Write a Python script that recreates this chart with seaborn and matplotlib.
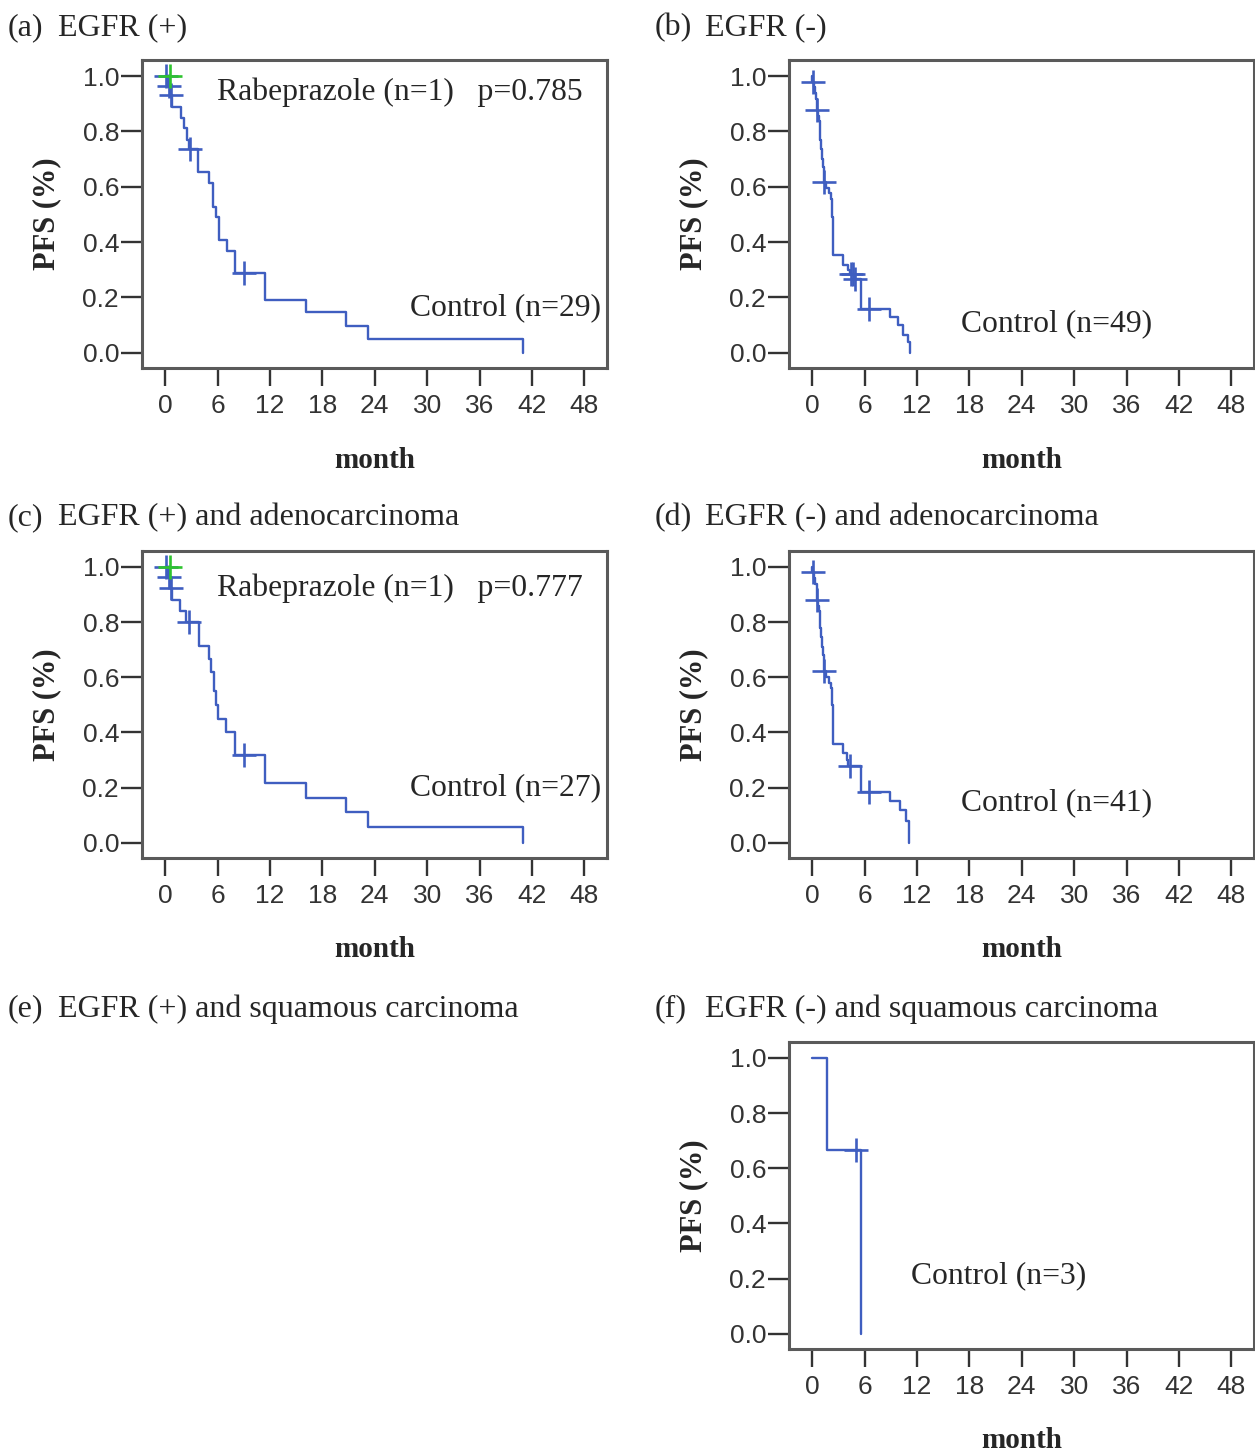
import matplotlib
matplotlib.use('Agg')
import matplotlib.pyplot as plt
import seaborn as sns
import pandas as pd

# ---- data (months, PFS fraction) ----
# (a) EGFR (+), control n=29
a_t = [0, 0.3, 0.5, 0.77, 1.8, 2.18, 2.56, 2.7, 3.71, 5.05, 5.43, 5.81, 6.12, 7.04, 8.04, 11.48, 16.15, 20.67, 23.2, 40.95]
a_s = [1.0, 0.965, 0.93, 0.889, 0.847, 0.811, 0.769, 0.735, 0.655, 0.613, 0.528, 0.492, 0.408, 0.369, 0.288, 0.191, 0.146, 0.097, 0.051, 0.0]
a_cens_t = [0.15, 0.4, 0.65, 2.85, 9.07]
a_cens_s = [1.0, 0.965, 0.93, 0.735, 0.288]

# (b) EGFR (-), control n=49
b_t = [0, 0.03, 0.2, 0.35, 0.45, 0.5, 0.65, 0.75, 0.85, 0.95, 1.05, 1.15, 1.25, 1.35, 1.41, 1.6, 1.9, 2.15,
       2.25, 2.3, 2.35, 2.4, 2.44, 3.51, 4.09, 4.35, 4.75, 5.61, 8.86, 9.82, 10.46, 10.96, 11.17]
b_s = [1.0, 0.98, 0.959, 0.939, 0.918, 0.877, 0.857, 0.836, 0.80, 0.77, 0.735, 0.70, 0.67, 0.64, 0.618, 0.597, 0.576, 0.555,
       0.534, 0.49, 0.45, 0.40, 0.354, 0.318, 0.30, 0.284, 0.266, 0.159, 0.128, 0.101, 0.065, 0.04, 0.0]
b_cens_t = [0.05, 0.53, 1.41, 4.4, 4.65, 4.95, 6.49]
b_cens_s = [0.98, 0.877, 0.618, 0.284, 0.284, 0.266, 0.159]

# (c) EGFR (+) and adenocarcinoma, control n=27
c_t = [0, 0.3, 0.5, 0.77, 1.68, 2.37, 3.83, 4.97, 5.3, 5.6, 5.85, 6.0, 6.96, 8.04, 11.48, 16.15, 20.67, 23.2, 40.95]
c_s = [1.0, 0.964, 0.925, 0.881, 0.839, 0.801, 0.713, 0.665, 0.62, 0.55, 0.50, 0.45, 0.402, 0.318, 0.216, 0.162, 0.11, 0.058, 0.0]
c_cens_t = [0.15, 0.4, 0.65, 2.76, 9.07]
c_cens_s = [1.0, 0.964, 0.925, 0.801, 0.318]

# (d) EGFR (-) and adenocarcinoma, control n=41
d_t = [0, 0.03, 0.2, 0.35, 0.5, 0.65, 0.75, 0.85, 0.95, 1.05, 1.15, 1.25, 1.35, 1.41, 1.6, 1.9, 2.15, 2.25,
       2.3, 2.35, 2.4, 2.44, 3.51, 3.95, 4.15, 5.61, 8.86, 10.1, 10.8, 11.1]
d_s = [1.0, 0.981, 0.96, 0.94, 0.881, 0.86, 0.84, 0.81, 0.78, 0.745, 0.71, 0.68, 0.65, 0.623, 0.60, 0.58, 0.56, 0.54,
       0.50, 0.46, 0.41, 0.36, 0.324, 0.30, 0.278, 0.186, 0.15, 0.118, 0.078, 0.0]
d_cens_t = [0.05, 0.53, 1.41, 4.3, 6.49]
d_cens_s = [0.981, 0.881, 0.623, 0.278, 0.186]

# (f) EGFR (-) and squamous carcinoma, control n=3
f_t = [0, 1.72, 5.61]
f_s = [1.0, 0.667, 0.0]
f_cens_t = [5.04]
f_cens_s = [0.667]

# rabeprazole arm (n=1), one censored case
rabe_t = [0.54]
rabe_s = [1.0]

titles = {
    'a': ('(a)', 'EGFR (+)'),
    'b': ('(b)', 'EGFR (-)'),
    'c': ('(c)', 'EGFR (+) and adenocarcinoma'),
    'd': ('(d)', 'EGFR (-) and adenocarcinoma'),
    'e': ('(e)', 'EGFR (+) and squamous carcinoma'),
    'f': ('(f)', 'EGFR (-) and squamous carcinoma'),
}

BLUE = '#3f5ec0'
GREEN = '#2ec42e'
W, H = 1255, 1455

sns.set_style('white')
plt.rcParams['font.family'] = ['Liberation Serif', 'DejaVu Serif']

fig = plt.figure(figsize=(W / 100, H / 100), dpi=100)


def make_ax(left_px, top_px, bottom_px, width_px=465):
    return fig.add_axes([left_px / W, 1 - bottom_px / H, width_px / W, (bottom_px - top_px) / H])


def draw_km(ax, t, s, ct, cs, ctrl_label, ctrl_xy, rabe_text=None, rabe_xy=None):
    df = pd.DataFrame({'month': t, 'PFS': s})
    sns.lineplot(data=df, x='month', y='PFS', drawstyle='steps-post', estimator=None,
                 color=BLUE, linewidth=1.7, ax=ax)
    sns.scatterplot(x=ct, y=cs, marker='+', s=280, color=BLUE, linewidth=1.9, ax=ax, zorder=3)
    if rabe_text is not None:
        sns.scatterplot(x=rabe_t, y=rabe_s, marker='+', s=280, color=GREEN, linewidth=1.9, ax=ax, zorder=4)
        ax.text(rabe_xy[0], rabe_xy[1], rabe_text, fontsize=22.8, ha='left', va='center')
    ax.text(ctrl_xy[0], ctrl_xy[1], ctrl_label, fontsize=22.8, ha='left', va='center')

    ax.set_xlim(-2.65, 50.6)
    ax.set_ylim(-0.055, 1.058)
    ax.set_xticks(range(0, 49, 6))
    ax.set_xticklabels([str(v) for v in range(0, 49, 6)], fontfamily='Liberation Sans',
                       fontsize=19, color='#333333')
    yt = [0.0, 0.2, 0.4, 0.6, 0.8, 1.0]
    ax.set_yticks(yt)
    ax.set_yticklabels(['%.1f' % v for v in yt], fontfamily='Liberation Sans',
                       fontsize=19, color='#333333')
    ax.tick_params(axis='x', bottom=True, direction='out', length=13, width=1.7,
                   color='#333333', pad=6)
    ax.tick_params(axis='y', left=True, direction='out', length=15, width=1.7,
                   color='#333333', pad=1.5)
    for sp in ax.spines.values():
        sp.set_color('#5a5a5a')
        sp.set_linewidth(2.2)

    ax.set_xlabel('month', fontsize=21, fontweight='bold')
    ax.xaxis.label.set_va('center')
    ax.xaxis.set_label_coords(0.5, -0.299)
    ax.set_ylabel('PFS (%)', fontsize=22, fontweight='bold')
    ax.yaxis.label.set_va('center')
    ax.yaxis.set_label_coords(-0.204, 0.5)


# titles
for key, (xl, yc) in zip('abcdef', [(8, 28), (655, 28), (8, 518), (655, 518), (8, 1009), (655, 1009)]):
    tag, txt = titles[key]
    fig.text(xl / W, 1 - yc / H, tag, fontsize=23, ha='left', va='center')
    fig.text((xl + 50) / W, 1 - yc / H, txt, fontsize=23, ha='left', va='center')

ax_a = make_ax(142, 60, 368)
draw_km(ax_a, a_t, a_s, a_cens_t, a_cens_s, 'Control (n=29)', (28.0, 0.162),
        'Rabeprazole (n=1)   p=0.785', (5.97, 0.942))

ax_b = make_ax(789, 60, 368)
draw_km(ax_b, b_t, b_s, b_cens_t, b_cens_s, 'Control (n=49)', (17.07, 0.105))

ax_c = make_ax(142, 551, 858)
draw_km(ax_c, c_t, c_s, c_cens_t, c_cens_s, 'Control (n=27)', (28.0, 0.198),
        'Rabeprazole (n=1)   p=0.777', (5.97, 0.924))

ax_d = make_ax(789, 551, 858)
draw_km(ax_d, d_t, d_s, d_cens_t, d_cens_s, 'Control (n=41)', (17.07, 0.144))

ax_f = make_ax(789, 1042, 1349)
draw_km(ax_f, f_t, f_s, f_cens_t, f_cens_s, 'Control (n=3)', (11.3, 0.209))

fig.savefig('out.png', dpi=100)
